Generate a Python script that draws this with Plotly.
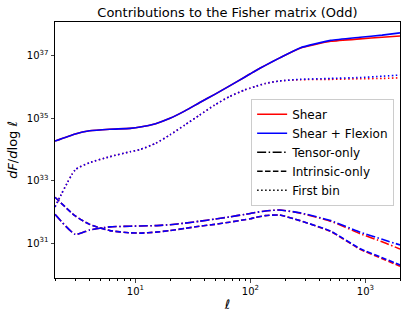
import numpy as np
import plotly.graph_objects as go

# multipole values (ell) and log10 of dF/dlog ell
ell = [2, 3, 4, 6, 9, 11, 15, 20, 27, 36, 49, 66, 89, 100, 110, 135, 180, 270, 500, 900, 1400, 2000]

total_flex = [34.27, 34.5, 34.6, 34.65, 34.68, 34.72, 34.83, 35.0, 35.24, 35.5, 35.77, 36.04,
              36.32, 36.43, 36.52, 36.7, 36.94, 37.26, 37.5, 37.6, 37.67, 37.74]
total_shear = [34.27, 34.5, 34.6, 34.65, 34.68, 34.72, 34.83, 35.0, 35.24, 35.5, 35.77, 36.04,
               36.32, 36.43, 36.52, 36.7, 36.94, 37.25, 37.47, 37.55, 37.6, 37.64]

first_flex = [32.16, 33.35, 33.58, 33.77, 33.93, 34.0, 34.2, 34.47, 34.79, 35.1, 35.43, 35.7,
              35.91, 35.97, 36.02, 36.12, 36.2, 36.25, 36.28, 36.31, 36.35, 36.39]
first_shear = [32.16, 33.35, 33.58, 33.77, 33.93, 34.0, 34.2, 34.47, 34.79, 35.1, 35.43, 35.7,
               35.91, 35.97, 36.02, 36.12, 36.2, 36.24, 36.25, 36.27, 36.28, 36.3]

intr_flex = [32.47, 31.87, 31.6, 31.4, 31.33, 31.32, 31.35, 31.4, 31.47, 31.54, 31.6, 31.67,
             31.75, 31.78, 31.82, 31.88, 31.9, 31.72, 31.38, 30.82, 30.53, 30.3]
intr_shear = [32.47, 31.87, 31.6, 31.4, 31.33, 31.32, 31.35, 31.4, 31.47, 31.54, 31.6, 31.67,
              31.75, 31.78, 31.82, 31.88, 31.9, 31.72, 31.37, 30.8, 30.5, 30.26]

tens_flex = [31.92, 31.28, 31.42, 31.52, 31.54, 31.55, 31.56, 31.59, 31.64, 31.7, 31.77, 31.84,
             31.92, 31.95, 31.98, 32.03, 32.06, 31.97, 31.72, 31.35, 31.12, 30.94]
tens_shear = [31.92, 31.28, 31.42, 31.52, 31.54, 31.55, 31.56, 31.59, 31.64, 31.7, 31.77, 31.84,
              31.92, 31.95, 31.98, 32.03, 32.06, 31.96, 31.7, 31.3, 31.04, 30.81]

DASH = {"solid": "solid", "tensor": "9px,2.5px,1.5px,2.5px", "intr": "5.5px,2.4px", "first": "1.5px,2.5px"}

fig = go.Figure()

series = [
    ("red", total_shear, "solid"), ("blue", total_flex, "solid"),
    ("red", first_shear, "first"), ("blue", first_flex, "first"),
    ("red", tens_shear, "tensor"), ("blue", tens_flex, "tensor"),
    ("red", intr_shear, "intr"), ("blue", intr_flex, "intr"),
]
for color, vals, style in series:
    fig.add_trace(
        go.Scatter(
            x=ell,
            y=10 ** np.array(vals),
            mode="lines",
            line=dict(color=color, width=1.6, dash=DASH[style], shape="spline", smoothing=0.5),
            showlegend=False,
        )
    )

# legend-only entries
legend_items = [
    ("Shear", "red", "solid"),
    ("Shear + Flexion", "blue", "solid"),
    ("Tensor-only", "black", "tensor"),
    ("Intrinsic-only", "black", "intr"),
    ("First bin", "black", "first"),
]
for name, color, style in legend_items:
    fig.add_trace(
        go.Scatter(
            x=[None],
            y=[None],
            mode="lines",
            name=name,
            line=dict(color=color, width=1.6, dash=DASH[style]),
        )
    )

minor_x = [m * d for d in (1, 10, 100, 1000) for m in range(2, 10) if m * d <= 2000]

fig.update_layout(
    width=407,
    height=321,
    margin=dict(l=55, r=7, t=22, b=43),
    paper_bgcolor="white",
    plot_bgcolor="white",
    font=dict(family="DejaVu Sans", color="black", size=10),
    title=dict(
        text="Contributions to the Fisher matrix (Odd)",
        x=0.5,
        xref="paper",
        xanchor="center",
        y=1 - 12 / 321,
        yanchor="middle",
        font=dict(size=13),
    ),
    legend=dict(
        x=0.983,
        y=0.70,
        xanchor="right",
        yanchor="top",
        bgcolor="rgba(255,255,255,0.8)",
        bordercolor="#cccccc",
        borderwidth=1,
        font=dict(size=12),
        tracegroupgap=0,
    ),
)

fig.update_xaxes(
    type="log",
    range=[np.log10(2), np.log10(2000)],
    automargin=False,
    showgrid=False,
    zeroline=False,
    showline=True,
    linecolor="black",
    linewidth=1,
    mirror=True,
    ticks="outside",
    ticklen=3.5,
    tickvals=[10, 100, 1000],
    ticktext=["10<sup>1</sup>", "10<sup>2</sup>", "10<sup>3</sup>"],
    minor=dict(ticks="outside", ticklen=2, tickvals=minor_x, tickcolor="black"),
    title=dict(text="<i>ℓ</i>", font=dict(size=13), standoff=4),
)

fig.update_yaxes(
    type="log",
    range=[29.88, 38.09],
    automargin=False,
    showgrid=False,
    zeroline=False,
    showline=True,
    linecolor="black",
    linewidth=1,
    mirror=True,
    ticks="outside",
    ticklen=3.5,
    tickvals=[1e31, 1e33, 1e35, 1e37],
    ticktext=["10<sup>31</sup>", "10<sup>33</sup>", "10<sup>35</sup>", "10<sup>37</sup>"],
    title=dict(text="<i>dF</i>/<i>d</i>log <i>ℓ</i>", font=dict(size=13), standoff=6),
)

# drop the default page margin so the figure sits at the window origin
fig.write_html(
    "out.html",
    config={"displayModeBar": False},
    post_script="document.body.style.margin='0';",
)
